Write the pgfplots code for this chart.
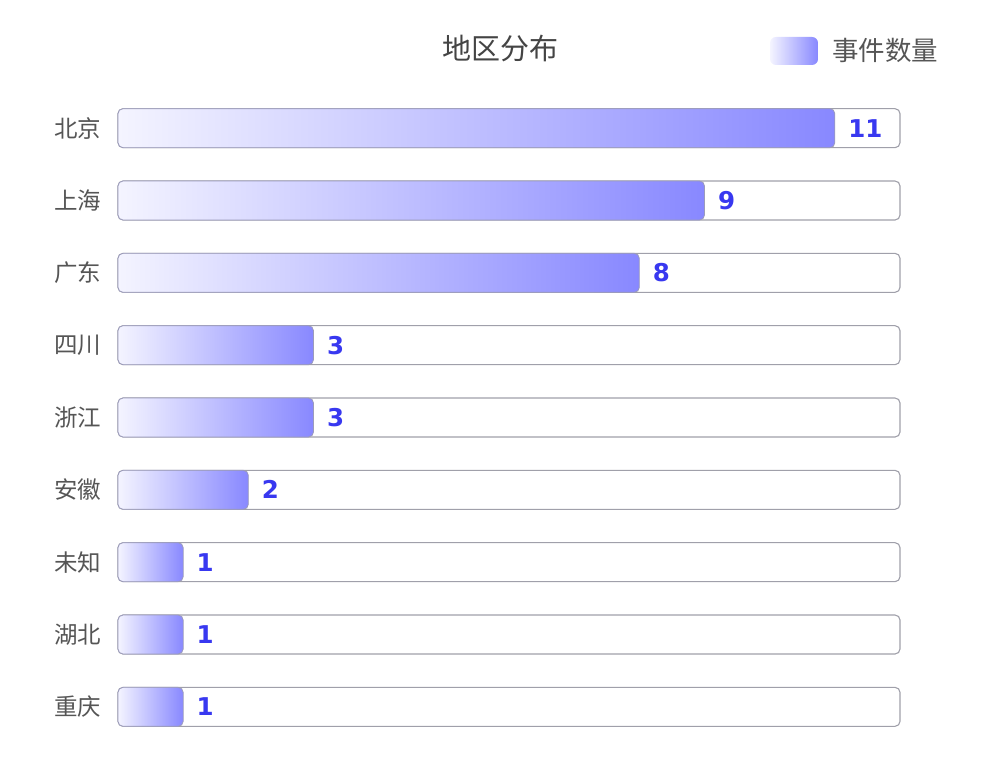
\documentclass[border=0pt]{standalone}
\usepackage{pgfplots}
\pgfplotsset{compat=1.18}
\usepackage{fontspec}
\setmainfont{Noto Sans CJK SC}
\newfontfamily\dejavu{DejaVu Sans}
\definecolor{trk}{RGB}{160,160,170}
\definecolor{barL}{RGB}{244,244,255}
\definecolor{barR}{RGB}{136,136,255}
\definecolor{valc}{RGB}{56,56,240}
\definecolor{lab}{RGB}{85,85,85}
\pgfplotsset{valbar/.style={xbar, bar shift=0pt, left color=barL, right color=barR, draw=trk!80!barR, line width=0.8pt, rounded corners=5pt}}
\begin{document}
\begin{tikzpicture}[x=1pt,y=1pt]
\useasboundingbox (0,0) rectangle (1000,768);
\begin{axis}[
  at={(118pt,25pt)}, anchor=south west,
  scale only axis, width=782pt, height=651pt,
  xmin=0, xmax=12, ymin=-0.5, ymax=8.5, y dir=reverse,
  xbar, bar width=39pt, bar shift=0pt,
  axis line style={draw=none}, xtick=\empty,
  ytick={0,...,8},
  yticklabels={北京,上海,广东,四川,浙江,安徽,未知,湖北,重庆},
  major tick length=0pt, ytick style={draw=none},
  yticklabel style={font=\fontsize{23.5}{27}\selectfont, text=lab, xshift=-13pt},
  clip=false,
]
\addplot[xbar, bar shift=0pt, fill=white, draw=trk, line width=1.1pt, rounded corners=5pt]
  coordinates {(12,0) (12,1) (12,2) (12,3) (12,4) (12,5) (12,6) (12,7) (12,8)};
\addplot[valbar] coordinates {(11,0)};
\addplot[valbar] coordinates {(9,1)};
\addplot[valbar] coordinates {(8,2)};
\addplot[valbar] coordinates {(3,3)};
\addplot[valbar] coordinates {(3,4)};
\addplot[valbar] coordinates {(2,5)};
\addplot[valbar] coordinates {(1,6)};
\addplot[valbar] coordinates {(1,7)};
\addplot[valbar] coordinates {(1,8)};
\addplot[xbar, bar shift=0pt, draw=none, fill=none,
  nodes near coords, nodes near coords align={horizontal},
  /pgf/number format/assume math mode=true,
  every node near coord/.append style={font=\dejavu\bfseries\fontsize{24.5}{28}\selectfont, text=valc, xshift=10pt}]
  coordinates {(11,0) (9,1) (8,2) (3,3) (3,4) (2,5) (1,6) (1,7) (1,8)};
\end{axis}
\node[font=\fontsize{29}{33}\selectfont, text={rgb,255:red,68;green,68;blue,68}] at (500,719) {地区分布};
\shade[left color=barL, right color=barR, rounded corners=6pt] (770,703) rectangle (818,731);
\node[anchor=west, inner sep=0pt, font=\fontsize{26.5}{30}\selectfont, text=lab] at (832,718) {事件数量};
\end{tikzpicture}
\end{document}
